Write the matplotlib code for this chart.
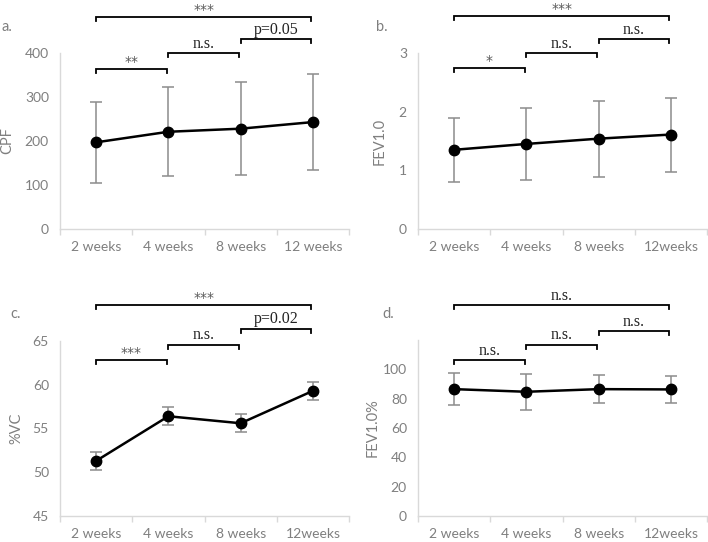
import matplotlib
matplotlib.use("Agg")
import matplotlib.pyplot as plt
import numpy as np

# ---------------- data ----------------
weeks_a = ["2 weeks", "4 weeks", "8 weeks", "12 weeks"]
weeks_b = ["2 weeks", "4 weeks", "8 weeks", "12weeks"]

cpf_mean = [197, 221, 228, 243]
cpf_sd = [92, 101, 105, 110]

fev1_mean = [1.35, 1.45, 1.54, 1.61]
fev1_sd = [0.55, 0.62, 0.65, 0.63]

vc_mean = [51.3, 56.4, 55.6, 59.3]
vc_sd = [1.0, 1.0, 1.0, 1.0]

fevp_mean = [86.5, 84.7, 86.5, 86.3]
fevp_sd = [10.8, 12.3, 9.4, 9.2]

sig_a = ["**", "n.s.", "p=0.05", "***"]
sig_b = ["*", "n.s.", "n.s.", "***"]
sig_c = ["***", "n.s.", "p=0.02", "***"]
sig_d = ["n.s.", "n.s.", "n.s.", "n.s."]

# ---------------- style ----------------
W, H = 708, 542
fig = plt.figure(figsize=(W / 100, H / 100), dpi=100)
GRAY = "#7f7f7f"
SPINE = "#d9d9d9"
SANS = ["Lato", "DejaVu Sans"]
SERIF = ["Liberation Serif", "DejaVu Serif"]


def px_axes(l, r, t, b):
    return fig.add_axes([l / W, 1 - b / H, (r - l) / W, (b - t) / H])


def bracket(ax, x0, x1, yf, label, drop=0.025):
    tr = ax.get_xaxis_transform()
    ax.plot([x0, x0, x1, x1], [yf - drop, yf, yf, yf - drop], color="black",
            lw=1.3, transform=tr, clip_on=False, solid_joinstyle="miter")
    if "*" in label:
        ax.text((x0 + x1) / 2, yf + 0.0, label, transform=tr, ha="center",
                va="bottom", fontsize=10, color="#5a5a5a", family="DejaVu Sans")
    else:
        ax.text((x0 + x1) / 2, yf + 0.008, label, transform=tr, ha="center",
                va="bottom", fontsize=11.5, color="#222222", family=SERIF)


def panel(ax, cats, mean, sd, ylim, yticks, ylabel, ylab_x, levels, sigs):
    x = np.arange(len(cats))
    ax.errorbar(x, mean, yerr=sd, fmt="none", ecolor="#8c8c8c", elinewidth=1.1,
                capsize=4, capthick=1.1, zorder=2)
    ax.plot(x, mean, color="black", lw=1.8, marker="o", markersize=7.5, zorder=3)
    ax.set_xlim(-0.5, len(cats) - 0.5)
    ax.set_ylim(*ylim)
    ax.set_yticks(yticks)
    ax.set_yticklabels([str(v) for v in yticks], family=SANS, fontsize=10, color=GRAY)
    ax.tick_params(axis="y", length=0, pad=8)
    ax.set_xticks(np.arange(-0.5, len(cats), 1.0))
    ax.set_xticklabels([])
    ax.tick_params(axis="x", which="major", length=4, color=SPINE, width=1)
    ax.set_xticks(x, minor=True)
    ax.set_xticklabels(cats, minor=True, family=SANS, fontsize=10, color=GRAY)
    ax.tick_params(axis="x", which="minor", length=0, pad=9)
    for s in ["top", "right"]:
        ax.spines[s].set_visible(False)
    for s in ["left", "bottom"]:
        ax.spines[s].set_color(SPINE)
        ax.spines[s].set_linewidth(1)
    ax.set_ylabel(ylabel, family=SANS, fontsize=10.5, color=GRAY)
    ax.yaxis.set_label_coords(ylab_x, 0.5)
    pairs = [(0, 1), (1, 2), (2, 3), (0, 3)]
    for (i, j), lv, s in zip(pairs, levels, sigs):
        bracket(ax, i + 0.0, j - 0.02, lv, s)


ax_a = px_axes(60, 349, 53, 229)
panel(ax_a, weeks_a, cpf_mean, cpf_sd, (0, 400), [0, 100, 200, 300, 400], "CPF",
      -0.16, [0.909, 1.0, 1.08, 1.205], sig_a)

ax_b = px_axes(418, 707, 53, 229)
panel(ax_b, weeks_b, fev1_mean, fev1_sd, (0, 3), [0, 1, 2, 3], "FEV1.0",
      -0.107, [0.915, 1.0, 1.08, 1.21], sig_b)

ax_c = px_axes(60, 349, 341, 516)
panel(ax_c, weeks_b, vc_mean, vc_sd, (45, 65), [45, 50, 55, 60, 65], "%VC",
      -0.128, [0.893, 0.979, 1.07, 1.207], sig_c)

ax_d = px_axes(418, 707, 340, 516)
panel(ax_d, weeks_b, fevp_mean, fevp_sd, (0, 120), [0, 20, 40, 60, 80, 100], "FEV1.0%",
      -0.134, [0.886, 0.973, 1.051, 1.199], sig_d)

for lab, xp, yp in [("a.", 1, 27), ("b.", 376, 27), ("c.", 10, 314), ("d.", 382, 314)]:
    fig.text(xp / W, 1 - yp / H, lab, family=SANS, fontsize=10.5, color=GRAY,
             ha="left", va="center")

fig.savefig("out.png", dpi=100)
